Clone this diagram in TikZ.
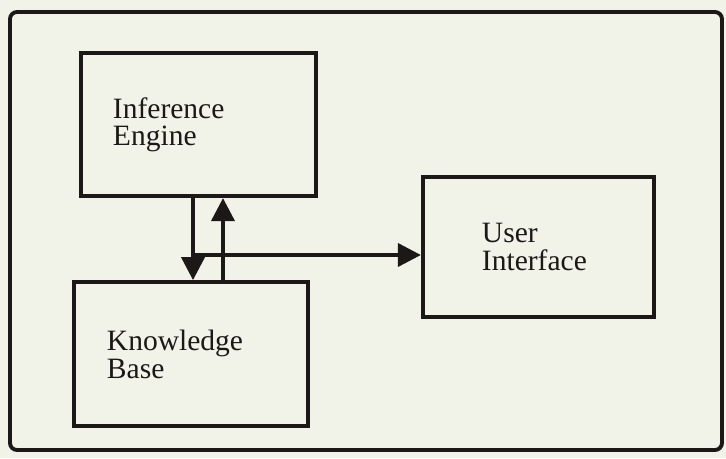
\documentclass[tikz,border=0pt]{standalone}
\usepackage{fontspec}
\setmainfont{Liberation Serif}
\usepackage{tikz}
\usetikzlibrary{arrows.meta,positioning}

\definecolor{paper}{RGB}{241,242,232}
\definecolor{ink}{RGB}{28,24,24}

\begin{document}
\begin{tikzpicture}[
  node distance=8.2mm,
  box/.style={draw=ink, line width=1.2pt, align=left, anchor=center,
    font=\fontsize{8.4}{7.8}\selectfont, text=ink},
  arrow/.style={-{Triangle[length=2.3mm,width=2.3mm]}, draw=ink, line width=1.1pt}
]
% page and frame
\fill[paper] (0,0) rectangle (7.26,4.58);
\useasboundingbox (0,0) rectangle (7.26,4.58);
\draw[ink, line width=1.1pt, rounded corners=2pt] (0.10,0.08) rectangle (7.22,4.46);

\node[box, text width=1.71cm, inner xsep=0.32cm, minimum height=1.43cm] (ie) at (1.985,3.335) {Inference\\Engine};
\node[box, text width=1.68cm, inner xsep=0.33cm, minimum height=1.44cm, below=of ie, xshift=-0.75mm] (kb) {Knowledge\\Base};
\node[box, text width=1.13cm, inner xsep=0.59cm, minimum height=1.40cm] (ui) at (5.385,2.11) {User\\Interface};

% arrow lanes
\coordinate (dn) at (1.93,0);
\coordinate (up) at (2.23,0);
\coordinate (jn) at (1.93,2.03);

\draw[arrow] (ie.south -| dn) -- (kb.north -| dn);
\draw[arrow] (kb.north -| up) -- (ie.south -| up);
\draw[arrow] (jn) -- (jn -| ui.west);
\end{tikzpicture}
\end{document}
